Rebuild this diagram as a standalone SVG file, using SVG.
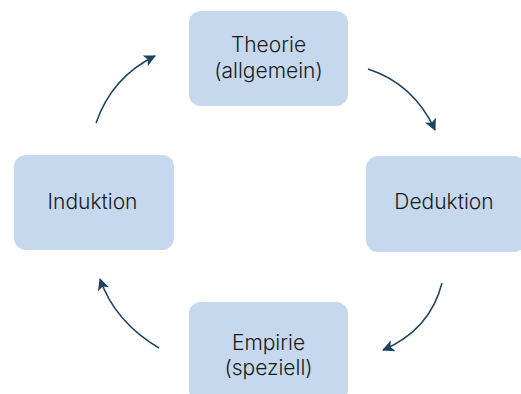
<svg xmlns="http://www.w3.org/2000/svg" width="521" height="394" viewBox="0 0 521 394">
<style>
.box{fill:#c5d8ee;}
.lbl{font-family:"Inter","Noto Sans","Liberation Sans",sans-serif;font-weight:300;font-size:21px;fill:#1a1a1a;text-anchor:middle;}
.arr{fill:none;stroke:#1b4463;stroke-width:1.5;marker-end:url(#ah);}
</style>
<defs>
<marker id="ah" markerUnits="userSpaceOnUse" markerWidth="12" markerHeight="12" viewBox="0 0 12 12" refX="11" refY="6" orient="auto">
<path d="M0,0 L12,6 L0,12 L3,6 Z" fill="#1b4463"/>
</marker>
</defs>
<rect width="521" height="394" fill="#ffffff"/>
<g id="theorie">
<rect class="box" x="189" y="11" width="159" height="95" rx="12"/>
<text class="lbl" x="268.5" y="52">Theorie</text>
<text class="lbl" x="268.5" y="78">(allgemein)</text>
</g>
<g id="deduktion">
<rect class="box" x="366" y="156" width="160" height="96" rx="12"/>
<text class="lbl" x="444" y="209">Deduktion</text>
</g>
<g id="induktion">
<rect class="box" x="14" y="155" width="160" height="95" rx="12"/>
<text class="lbl" x="92.5" y="209">Induktion</text>
</g>
<g id="empirie">
<rect class="box" x="189" y="302" width="159" height="100" rx="12"/>
<text class="lbl" x="268.5" y="350">Empirie</text>
<text class="lbl" x="268.5" y="375">(speziell)</text>
</g>
<g id="connectors">
<path class="arr" d="M96,123 Q112,77 155,56"/>
<path class="arr" d="M368,69 Q414,84 435,130"/>
<path class="arr" d="M442,283 Q430,330 383,350"/>
<path class="arr" d="M159,348 Q115,322 100,279"/>
</g>
</svg>
